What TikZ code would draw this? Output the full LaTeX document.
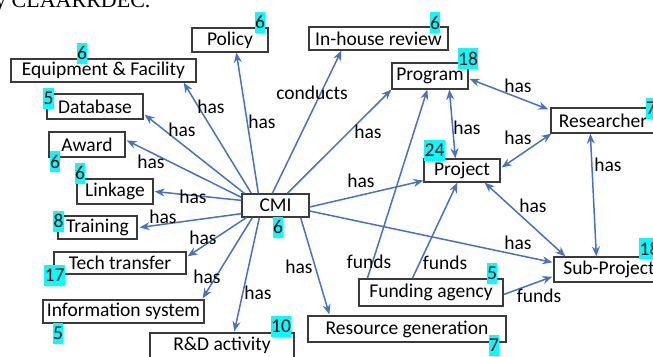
\documentclass[tikz,border=0pt]{standalone}
\usepackage{fontspec}
\setmainfont{Carlito}
\newfontfamily\capserif{Liberation Serif}
\usetikzlibrary{arrows.meta,calc}
\definecolor{edgeblue}{HTML}{4472C4}
\definecolor{boxgray}{HTML}{3A3A3A}
\definecolor{numcyan}{HTML}{00FFFF}
\begin{document}
\begin{tikzpicture}[x=1pt,y=-1pt,
  box/.style={draw=boxgray,line width=1.3pt,fill=white,inner sep=0pt,font=\fontsize{19.5}{22}\selectfont},
  num/.style={fill=numcyan,inner xsep=0.3pt,inner ysep=0pt,minimum height=21pt,font=\fontsize{19.5}{22}\selectfont},
  lbl/.style={inner sep=0pt,font=\fontsize{19.5}{22}\selectfont},
  arr/.style={draw=edgeblue,line width=1.5pt,-{Stealth[length=10pt,width=8pt]}},
  darr/.style={draw=edgeblue,line width=1.5pt,{Stealth[length=10pt,width=8pt]}-{Stealth[length=10pt,width=8pt]}}]
\useasboundingbox (0,0) rectangle (653,356);

% cropped caption fragment at the top
\node[inner sep=0pt,anchor=base west,font=\capserif\fontsize{22}{24}\selectfont] (cap) at (-5,8) {y CLAARRDEC.};

% boxes
\node[box,minimum width=76pt,minimum height=24pt] (policy) at (230,40) {Policy};
\node[box,minimum width=139pt,minimum height=23pt] (inhouse) at (378.5,38.5) {In-house review};
\node[box,minimum width=185pt,minimum height=23pt] (equip) at (103.5,70.5) {Equipment \& Facility};
\node[box,minimum width=96pt,minimum height=25pt] (db) at (95,106.5) {Database};
\node[box,minimum width=76pt,minimum height=25pt] (award) at (87,144.5) {Award};
\node[box,minimum width=76pt,minimum height=25pt] (link) at (115,191.5) {Linkage};
\node[box,minimum width=79pt,minimum height=23pt] (train) at (97.5,227.5) {Training};
\node[box,minimum width=132pt,minimum height=22pt] (tech) at (120,263) {Tech transfer};
\node[box,minimum width=161pt,minimum height=23pt] (info) at (123.5,311.5) {Information system};
\node[box,minimum width=144pt,minimum height=25pt] (rd) at (222,345.5) {R\&D activity};
\node[box,minimum width=67pt,minimum height=23pt] (cmi) at (275.5,205.5) {CMI};
\node[box,minimum width=198pt,minimum height=26pt] (rg) at (407,329) {Resource generation};
\node[box,minimum width=144pt,minimum height=27pt] (fa) at (431,292.5) {Funding agency};
\node[box,minimum width=76pt,minimum height=26pt] (prog) at (430,76) {Program};
\node[box,minimum width=76pt,minimum height=23pt] (proj) at (462,170.5) {Project};
\node[box,minimum width=104pt,minimum height=25pt] (res) at (603,120.5) {Researcher};
\node[box,minimum width=110pt,minimum height=25pt] (sub) at (609,269.5) {Sub-Project};

% edges from CMI
\draw[arr] ($(cmi.north west)+(17,0)$) -- ($(policy.south west)+(45,0)$);
\draw[arr] ($(cmi.north west)+(10,0)$) -- ($(equip.south east)+(-13,0)$);
\draw[arr] ($(cmi.north west)+(31,0)$) -- ($(inhouse.south west)+(33,0)$);
\draw[arr] ($(cmi.north west)+(46,0)$) -- (prog.south west);
\draw[arr] ($(cmi.north west)+(3,0)$) -- ($(db.south east)+(1,-5)$);
\draw[arr] ($(cmi.north west)+(0,4)$) -- ($(award.north east)+(1,9)$);
\draw[arr] ($(cmi.north west)+(0,7)$) -- ($(link.east)+(1,0)$);
\draw[arr] ($(cmi.south west)+(0,-4)$) -- ($(train.east)+(2,0)$);
\draw[arr] ($(cmi.south west)+(5,0)$) -- ($(tech.north east)+(1,5)$);
\draw[arr] ($(cmi.south west)+(11,0)$) -- ($(info.north east)+(-2,-1)$);
\draw[arr] ($(cmi.south west)+(18,0)$) -- ($(rd.north west)+(85,-1)$);
\draw[arr] ($(cmi.south east)+(-9,0)$) -- ($(rg.north west)+(22,-1)$);
\draw[arr] ($(cmi.east)+(0,1.5)$) -- ($(proj.south west)+(0,-2)$);
\draw[arr] ($(cmi.east)+(0,5.5)$) -- ($(sub.north west)+(-1,6)$);

% right-hand relations
\draw[darr] ($(prog.east)+(1,3)$) -- ($(res.north west)+(-2,2)$);
\draw[darr] ($(prog.south west)+(58,0)$) -- ($(proj.north west)+(32,0)$);
\draw[darr] ($(res.south west)+(1,0)$) -- ($(proj.east)+(1,-3)$);
\draw[darr] ($(res.south west)+(40,0)$) -- ($(sub.north west)+(43,0)$);
\draw[darr] ($(proj.south east)+(-16,0)$) -- ($(sub.north west)+(12,0)$);
\draw[arr] ($(fa.north west)+(9,0)$) -- ($(prog.south west)+(36,0)$);
\draw[arr] ($(fa.north west)+(54,0)$) -- ($(proj.south west)+(34,0)$);
\draw[arr] ($(fa.east)+(0,2)$) -- ($(sub.south west)+(-1,-6)$);

% edge labels
\node[lbl] (l1) at (262,122) {has};
\node[lbl] (l2) at (211,107) {has};
\node[lbl] (l3) at (182,130) {has};
\node[lbl] (l4) at (151,162) {has};
\node[lbl] (l5) at (193,197) {has};
\node[lbl] (l6) at (163,217) {has};
\node[lbl] (l7) at (203,238) {has};
\node[lbl] (l8) at (207,277) {has};
\node[lbl] (l9) at (258,293) {has};
\node[lbl] (l10) at (299,267) {has};
\node[lbl] (l11) at (312,93) {conducts};
\node[lbl] (l12) at (368,132) {has};
\node[lbl] (l13) at (361,181) {has};
\node[lbl] (l14) at (518,243) {has};
\node[lbl] (l15) at (518,86) {has};
\node[lbl] (l16) at (467,128) {has};
\node[lbl] (l17) at (518,138) {has};
\node[lbl] (l18) at (608,165) {has};
\node[lbl] (l19) at (533,206) {has};
\node[lbl] (l20) at (369,262) {funds};
\node[lbl] (l21) at (445,263) {funds};
\node[lbl] (l22) at (539,296) {funds};

% counts
\node[num] (n1) at (260,22) {6};
\node[num] (n2) at (435,22.5) {6};
\node[num] (n3) at (82,53) {6};
\node[num] (n4) at (48.5,98.5) {5};
\node[num] (n5) at (55,161.5) {6};
\node[num] (n6) at (80,173) {6};
\node[num] (n7) at (58.5,221) {8};
\node[num] (n8) at (54.5,275.5) {17};
\node[num] (n9) at (58,333) {5};
\node[num] (n10) at (278,227) {6};
\node[num] (n11) at (281,326) {10};
\node[num] (n12) at (494,345) {7};
\node[num] (n13) at (492,273) {5};
\node[num] (n14) at (468,58.5) {18};
\node[num] (n15) at (434.5,150) {24};
\node[num] (n16) at (651,108) {7};
\node[num] (n17) at (649.5,248.5) {18};
\end{tikzpicture}
\end{document}
